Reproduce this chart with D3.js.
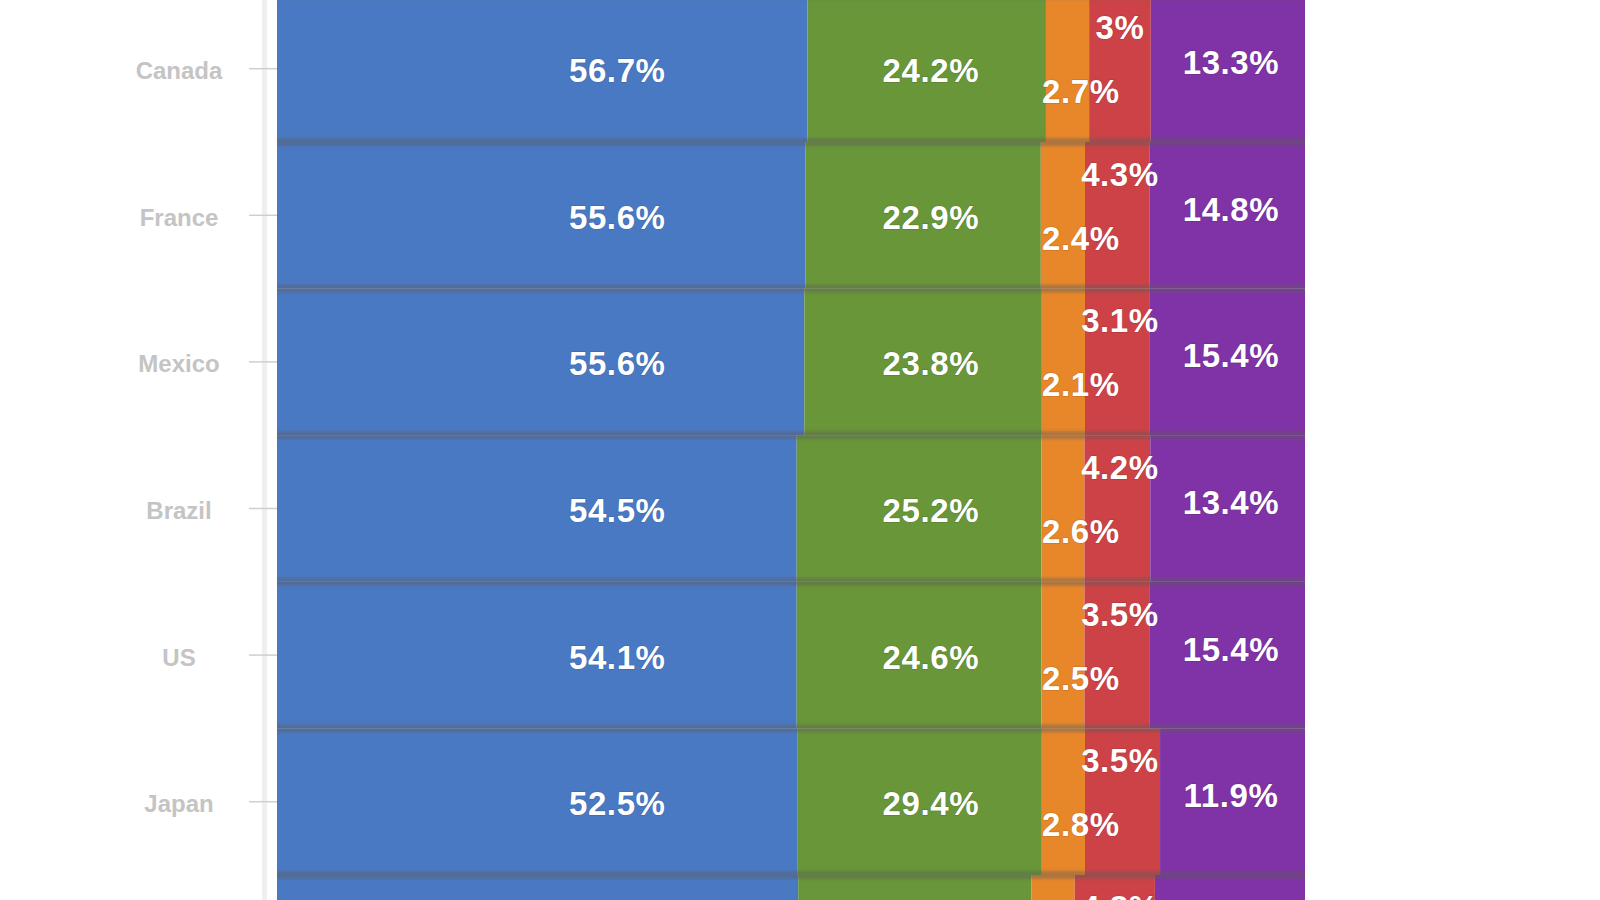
<!DOCTYPE html>
<html>
<head>
<meta charset="utf-8">
<script src="https://cdn.jsdelivr.net/npm/d3@7"></script>
<style>
  html, body { margin: 0; padding: 0; background: #ffffff; }
  svg { display: block; }
  text { font-family: "Liberation Sans", Arial, Helvetica, sans-serif; }
</style>
</head>
<body>
<svg id="chart" width="1600" height="900"></svg>
<script>
// ---- data ----
// last row is cut off at the bottom of the frame; its name is not visible
const countries = ["Canada", "France", "Mexico", "Brazil", "US", "Japan", "(cut off)"];
const visibleNames = ["Canada", "France", "Mexico", "Brazil", "US", "Japan"];
const seriesNames = ["blue", "green", "orange", "red", "purple"];

// drawn segment widths (share of the full bar, %)
const blueBar   = [51.6, 51.4, 51.3, 50.55, 50.55, 50.6, 50.7];
const greenBar  = [23.2, 22.9, 23.1, 23.8, 23.8, 23.8, 22.7];
const orangeBar = [4.2, 4.3, 4.2, 4.2, 4.2, 4.2, 4.2];
const redBar    = [6.0, 6.3, 6.25, 6.4, 6.3, 7.3, 7.8];
const purpleBar = [15.0, 15.1, 15.15, 15.05, 15.15, 14.1, 14.6];

// printed value labels (%); null = not visible in the frame
const blueLabel   = [56.7, 55.6, 55.6, 54.5, 54.1, 52.5, null];
const greenLabel  = [24.2, 22.9, 23.8, 25.2, 24.6, 29.4, null];
const orangeLabel = [2.7, 2.4, 2.1, 2.6, 2.5, 2.8, null];
const redLabel    = [3, 4.3, 3.1, 4.2, 3.5, 3.5, 4.8];
const purpleLabel = [13.3, 14.8, 15.4, 13.4, 15.4, 11.9, null];

// ---- styling ----
const colors = { blue: "#4a79c4", green: "#699638", orange: "#e8872a", red: "#cd4246", purple: "#8033a6" };
const labelCol = { blue: 33.1, green: 63.6, orange: 78.2, red: 82.0, purple: 92.8 };   // label column, in % units
const labelDy  = { blue: 0, green: 0, orange: 21, red: -43, purple: -8 };

const bars = { blue: blueBar, green: greenBar, orange: orangeBar, red: redBar, purple: purpleBar };
const labels = { blue: blueLabel, green: greenLabel, orange: orangeLabel, red: redLabel, purple: purpleLabel };

const rows = countries.map((c, i) => {
  const r = { country: c };
  seriesNames.forEach(s => r[s] = bars[s][i]);
  return r;
});

const svg = d3.select("#chart");
const defs = svg.append("defs");
defs.append("filter").attr("id", "soft").attr("x", "-5%").attr("y", "-100%").attr("width", "110%").attr("height", "300%")
  .append("feGaussianBlur").attr("stdDeviation", "0 1.4");

const x = d3.scaleLinear().domain([0, 100]).range([277, 1305]);
const rowH = 146.6;
const y0 = -4.6;
const y = d3.scaleBand().domain(countries).range([y0, y0 + rowH * countries.length]).padding(0);

const stack = d3.stack().keys(seriesNames)(rows);

// axis line
svg.append("rect").attr("x", 262).attr("y", 0).attr("width", 5).attr("height", 900).attr("fill", "#efefef");

// segments
const layer = svg.append("g");
stack.forEach(ser => {
  layer.append("g").attr("fill", colors[ser.key])
    .selectAll("rect").data(ser).join("rect")
    .attr("x", d => x(d[0]))
    .attr("width", d => x(d[1]) - x(d[0]))
    .attr("y", d => y(d.data.country))
    .attr("height", y.bandwidth());
});

// row separators (soft darker bands between rows)
const bounds = countries.map(c => y(c)).concat([y(countries[countries.length - 1]) + y.bandwidth()]);
svg.append("g").attr("filter", "url(#soft)").selectAll("rect").data(bounds).join("rect")
  .attr("x", x(0)).attr("width", x(100) - x(0))
  .attr("y", d => d - 4).attr("height", 8)
  .attr("fill", "rgba(90,90,90,0.42)");

// y axis: ticks + country labels
const yAxis = d3.axisLeft(y).tickSize(28).tickPadding(0);
const ax = svg.append("g").attr("transform", `translate(${x(0)},0)`).call(yAxis);
ax.select(".domain").remove();
ax.selectAll(".tick").filter(d => !visibleNames.includes(d)).remove();
ax.selectAll(".tick line").attr("stroke", "#cfcfcf").attr("stroke-width", 1.5);
ax.selectAll(".tick text")
  .attr("x", 179 - x(0))
  .attr("y", 2)
  .attr("text-anchor", "middle")
  .attr("dy", "0.35em")
  .attr("fill", "#c4c4c4")
  .attr("font-size", 24)
  .attr("font-weight", "bold")
  .style("font-family", "'Liberation Sans', Arial, sans-serif");

// value labels
const lab = svg.append("g");
seriesNames.forEach(s => {
  lab.append("g").selectAll("text")
    .data(countries.map((c, i) => ({ c, v: labels[s][i] })).filter(d => d.v !== null))
    .join("text")
    .attr("x", x(labelCol[s]))
    .attr("y", d => y(d.c) + y.bandwidth() / 2 + labelDy[s] + 13.5)
    .attr("text-anchor", "middle")
    .attr("fill", "#ffffff")
    .attr("font-size", 33)
    .attr("font-weight", "bold")
    .attr("letter-spacing", 0.6)
    .style("paint-order", "stroke")
    .attr("stroke", "rgba(0,0,0,0.12)")
    .attr("stroke-width", 1.5)
    .text(d => d.v + "%");
});
</script>
</body>
</html>
